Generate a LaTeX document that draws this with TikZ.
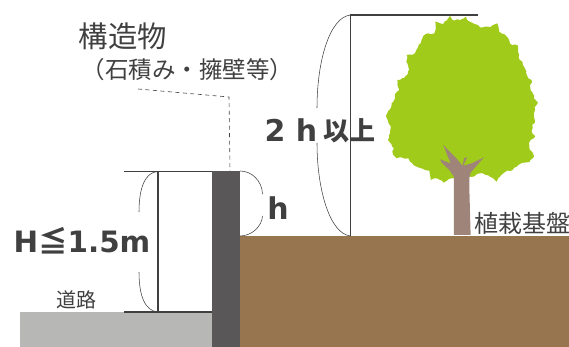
\documentclass[tikz,border=0pt]{standalone}
\usepackage{fontspec}
\usetikzlibrary{decorations.pathmorphing}
\setmainfont{DejaVu Sans}
\newfontfamily\jp{Noto Sans CJK JP}
\definecolor{txt}{HTML}{404040}
\definecolor{wall}{HTML}{595757}
\definecolor{soil}{HTML}{96754F}
\definecolor{road}{HTML}{B7B7B5}
\definecolor{leaf}{HTML}{A0CB1A}
\definecolor{bark}{HTML}{9F8579}
\tikzset{
  jplabel/.style={text=txt,font=\jp,inner sep=0pt,anchor=center},
  biglabel/.style={text=txt,font=\bfseries,inner sep=0pt,anchor=center},
  dimline/.style={draw=txt,line width=1.1pt},
  bracket/.style={draw=txt,line width=0.55pt},
  leader/.style={draw=txt,line width=0.6pt,dash pattern=on 4pt off 3.5pt},
  foliage/.style={fill=leaf,decorate,decoration={random steps,segment length=2.5pt,amplitude=0.9pt}}
}
\pgfmathsetseed{7}
\begin{document}
\begin{tikzpicture}[x=1pt,y=-1pt]
\useasboundingbox (0,0) rectangle (569,347);
% ground and wall
\fill[road] (20,312) rectangle (212,347);
\fill[soil] (240,236) rectangle (569,347);
\fill[wall] (212,171) rectangle (240,347);
% tree
\begin{scope}[x=0.3333pt,y=-0.3333pt,shift={(1140,0)}]
\path[foliage] (210,48)--(216,58)--(222,62)--(232,58)--(240,60)--(250,56)--(258,50)--(264,62)--(272,66)--(284,72)--(300,82)--(316,80)--(330,82)--(342,74)--(352,70)--(356,84)--(358,95)--(372,102)--(385,115)--(390,130)--(397,136)--(412,135)--(414,156)--(418,178)--(428,186)--(432,200)--(438,218)--(445,235)--(455,240)--(451,262)--(458,280)--(462,295)--(474,308)--(464,322)--(462,340)--(465,360)--(458,378)--(455,392)--(466,408)--(452,420)--(447,430)--(450,450)--(462,470)--(450,485)--(432,488)--(420,492)--(410,500)--(395,512)--(382,512)--(370,520)--(360,530)--(350,545)--(340,535)--(330,530)--(315,524)--(300,520)--(285,528)--(268,530)--(245,532)--(220,535)--(205,538)--(190,548)--(180,540)--(170,535)--(152,540)--(150,525)--(148,512)--(135,510)--(125,505)--(110,500)--(100,495)--(90,485)--(85,475)--(65,472)--(50,475)--(38,460)--(42,445)--(34,432)--(24,420)--(30,400)--(32,378)--(24,362)--(18,348)--(28,330)--(35,310)--(45,296)--(45,285)--(58,270)--(52,240)--(72,235)--(84,222)--(88,210)--(82,190)--(80,165)--(105,160)--(115,140)--(125,120)--(130,108)--(145,100)--(163,100)--(168,85)--(165,65)--(180,70)--(190,72)--(200,62)--cycle;
\fill[bark] (222,705)--(272,705)--(268,560)--(268,535)--(272,518)--(312,472)--(275,490)--(250,497)--(262,472)--(253,474)--(247,497)--(232,478)--(190,435)--(203,468)--(212,490)--(180,478)--(185,488)--(208,510)--(222,530)--cycle;
\end{scope}
% dimension lines
\coordinate (hTopL) at (124,171.5);
\coordinate (hTopR) at (212,171.5);
\coordinate (hBotL) at (124,312);
\coordinate (hBotR) at (212,312);
\coordinate (hMidT) at (158,171.5);
\coordinate (hMidB) at (158,312);
\draw[dimline] (hTopL) -- (hTopR);
\draw[dimline] (hBotL) -- (hBotR);
\draw[dimline] (hMidT) -- (hMidB);
\coordinate (tTop) at (350.5,15);
\coordinate (tRight) at (478,15);
\coordinate (tBot) at (350.5,236);
\draw[dimline] (tRight) -- (tTop) -- (tBot);
% brackets
\draw[bracket] (hMidT) .. controls (145,172) and (139,188) .. (139,212);
\draw[bracket] (139,272) .. controls (139,296) and (145,311) .. (hMidB);
\draw[bracket] (240,171) .. controls (252,171) and (262,181) .. (262.5,194);
\draw[bracket] (262.5,216) .. controls (262,226) and (252,236) .. (240,236);
\draw[bracket] (tTop) .. controls (330,17) and (317,60) .. (317,108);
\draw[bracket] (317,143) .. controls (317,190) and (330,234) .. (tBot);
% leader
\coordinate (l1) at (138,89);
\coordinate (l2) at (229,97);
\coordinate (l3) at (230,171);
\draw[leader] (l1) -- (l2) -- (l3);
% labels
\node[jplabel,font=\jp\fontsize{29.4}{29}\selectfont] (struct) at (123,36) {構造物};
\node[jplabel,font=\jp\fontsize{23.5}{23}\selectfont] (paren) at (187.5,70) {（石積み・擁壁等）};
\node[biglabel,font=\bfseries\fontsize{30}{30}\selectfont] (twoh) at (291,130) {2 h};
\node[jplabel,font=\jp\bfseries\fontsize{26}{26}\selectfont] (ijo) at (349.5,131) {以上};
\node[biglabel,font=\bfseries\fontsize{30}{30}\selectfont] (h) at (278,208) {h};
\node[biglabel,font=\bfseries\fontsize{29.4}{29}\selectfont] (H) at (82,241) {H\hspace{0pt}{\jp ≦}1.5m};
\node[jplabel,font=\jp\fontsize{20}{20}\selectfont] (road) at (76.5,300) {道路};
\node[jplabel,font=\jp\fontsize{24}{24}\selectfont] (base) at (522,223) {植栽基盤};
\end{tikzpicture}
\end{document}
